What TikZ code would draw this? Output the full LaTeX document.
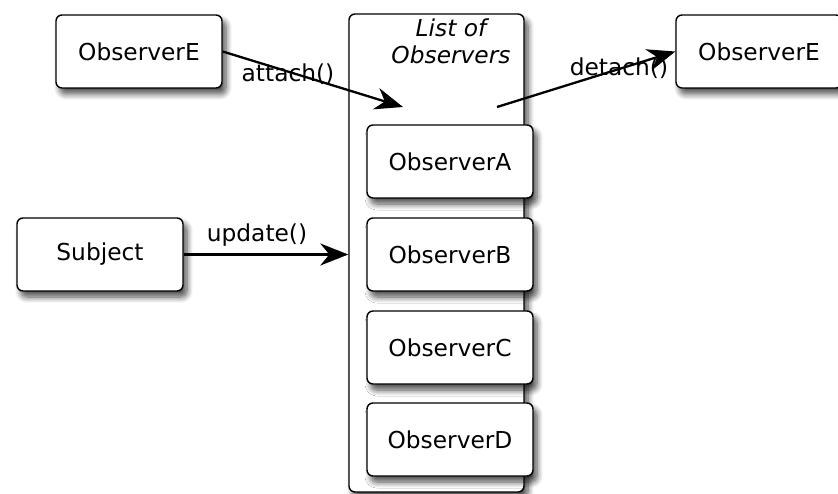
\documentclass[tikz,border=0pt]{standalone}
\usepackage{fontspec}
\setmainfont{DejaVu Sans}
\usetikzlibrary{arrows.meta,shadows.blur}

\tikzset{
  box/.style={draw=black, line width=1.4pt, fill=white, rounded corners=6pt,
    minimum width=166pt, minimum height=73pt, inner sep=0pt,
    blur shadow={shadow xshift=4pt, shadow yshift=-6pt, shadow blur radius=6pt,
      shadow blur steps=8, shadow opacity=70},
    font=\fontsize{23.3}{28}\selectfont},
  container/.style={box, minimum width=175pt, minimum height=478pt},
  msg/.style={draw=black, line width=2.3pt,
    -{Stealth[length=28pt, width=22pt, inset=9pt]}},
  msglabel/.style={font=\fontsize{23.3}{28}\selectfont, inner sep=0pt},
}

\begin{document}
\begin{tikzpicture}[x=1pt, y=-1pt]
  \useasboundingbox (0,0) rectangle (838,494);

  % the container holding the registered observers
  \node[container] (list) at (436.5,253) {};
  \node[msglabel, align=center, font=\fontsize{23.3}{27}\selectfont\itshape]
    (title) at (451,41) {List of\\Observers};

  \node[box] (obsA) at (450,161.5) {ObserverA};
  \node[box] (obsB) at (450,254.5) {ObserverB};
  \node[box] (obsC) at (450,347.5) {ObserverC};
  \node[box] (obsD) at (450,439.5) {ObserverD};

  % outside participants
  \node[box] (subject) at (100,254.5) {Subject};
  \node[box] (newObs) at (139,51.5) {ObserverE};
  \node[box] (oldObs) at (759,51.5) {ObserverE};

  % messages
  \coordinate (attachEnd) at (403,107);
  \coordinate (detachStart) at (497,107);

  \draw[msg] (subject.east) -- (list.west |- subject.east);
  \node[msglabel] (updLbl) at (257,235) {update()};

  \draw[msg] (newObs.east) -- (attachEnd);
  \node[msglabel] (attLbl) at (288,74) {attach()};

  \draw[msg] (detachStart) -- (oldObs.west);
  \node[msglabel] (detLbl) at (619,68) {detach()};
\end{tikzpicture}
\end{document}
